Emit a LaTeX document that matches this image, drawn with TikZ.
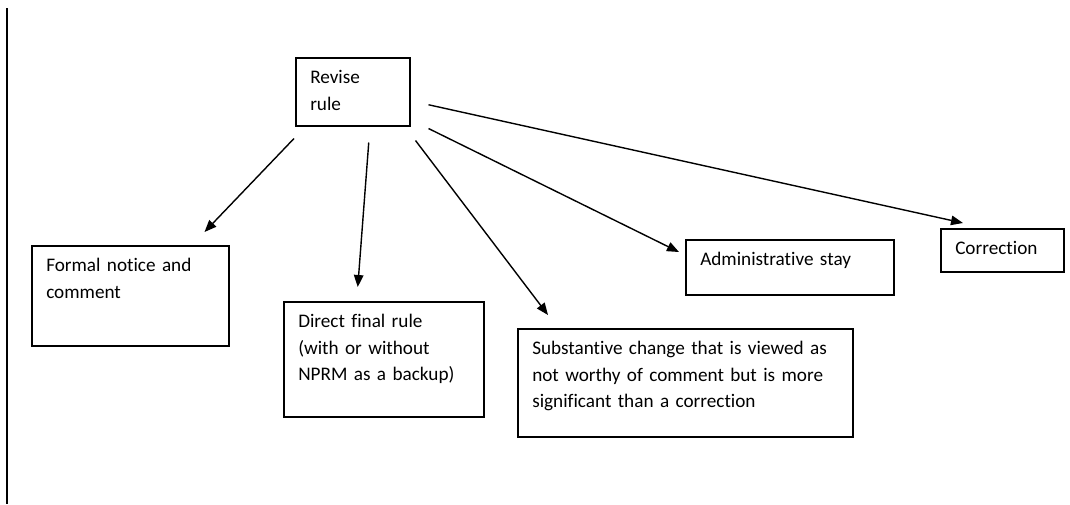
\documentclass[tikz,border=0pt]{standalone}
\usepackage{fontspec}
\setmainfont{Carlito}[Ligatures=NoCommon]
\usetikzlibrary{arrows.meta}
\tikzstyle{choice} = [rectangle, draw=black, line width=1.5pt, anchor=north west, align=left,
	inner xsep=14.5pt, inner ysep=0pt, text height=26pt, font=\fontsize{19.2}{26.5}\selectfont]
\tikzstyle{branch} = [line width=1.4pt, -{Triangle[length=12pt, width=9.5pt]}]

\begin{document}
\begin{tikzpicture}[x=1pt, y=-1pt]
			\useasboundingbox (0,0) rectangle (1070,504);
			\draw [line width=1.8pt] (7,8) -- (7,504);
			% the boxes
			\node [choice, text width=85pt, text depth=42pt] (revise) at (295,57) {Revise\\rule};
			\node [choice, text width=168pt, text depth=74pt] (formal) at (31,245) {Formal notice and\\comment};
			\node [choice, text width=171pt, text depth=89pt] (direct) at (283,301) {Direct final rule\\(with or without\\NPRM as a backup)};
			\node [choice, text width=306pt, text depth=82pt] (subst) at (517,328) {Substantive change that is viewed as\\not worthy of comment but is more\\significant than a correction};
			\node [choice, text width=179pt, text depth=29pt] (admin) at (685,239) {Administrative stay};
			\node [choice, text width=94pt, text depth=17pt] (corr) at (940,228) {Correction};
			% the arrows
			\draw [branch] ([xshift=-1pt, yshift=-12pt]revise.south west) -- ([xshift=-25pt, yshift=13pt]formal.north east);
			\draw [branch] ([xshift=16pt, yshift=-16pt]revise.south) -- ([xshift=-26pt, yshift=14pt]direct.north);
			\draw [branch] ([xshift=5pt, yshift=-14pt]revise.south east) -- ([xshift=31pt, yshift=13pt]subst.north west);
			\draw [branch] ([xshift=18pt, yshift=-2pt]revise.south east) -- ([xshift=-6pt, yshift=-13pt]admin.north west);
			\draw [branch] ([xshift=18pt, yshift=-13pt]revise.east) -- ([xshift=23pt, yshift=5pt]corr.north west);
		\end{tikzpicture}
\end{document}
